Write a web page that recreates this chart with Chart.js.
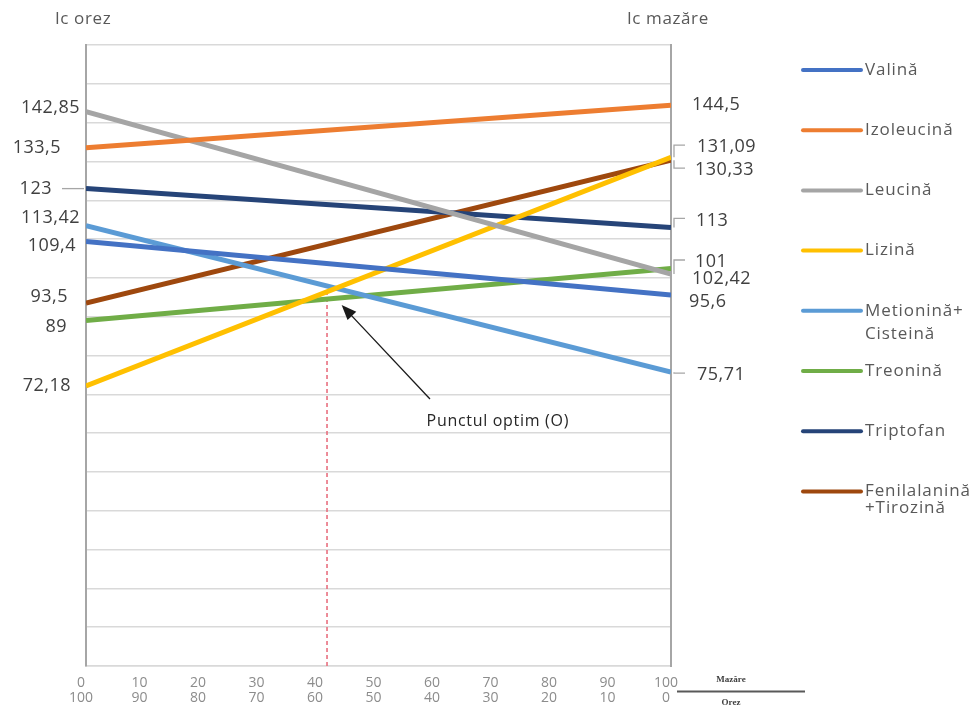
<!DOCTYPE html>
<html>
<head>
<meta charset="utf-8">
<script src="https://cdn.jsdelivr.net/npm/chart.js@4.4.0/dist/chart.umd.min.js"></script>
<style>
  html, body { margin: 0; padding: 0; background: #ffffff; }
  #wrap { width: 978px; height: 711px; position: relative; }
</style>
</head>
<body>
<div id="wrap"><canvas id="grafic" width="978" height="711"></canvas></div>
<script>
// Aminoacizi esențiali și indicii chimici (Ic) pentru orez (0% mazăre) și mazăre (100% mazăre)
const aminoacizi = ['Valină', 'Izoleucină', 'Leucină', 'Lizină', ['Metionină+', 'Cisteină'], 'Treonină', 'Triptofan', ['Fenilalanină', '+Tirozină']];
const icOrez    = [109.4, 133.5, 142.85, 72.18, 113.42, 89, 123, 93.5];
const icMazare  = [95.6, 144.5, 101, 131.09, 75.71, 102.42, 113, 130.33];
const culori    = ['#4472C4', '#ED7D31', '#A5A5A5', '#FFC000', '#5B9BD5', '#70AD47', '#264478', '#9E480E'];

// Etichetele axei orizontale: procent mazăre / procent orez
const procentMazare = [0, 10, 20, 30, 40, 50, 60, 70, 80, 90, 100];
const procentOrez   = [100, 90, 80, 70, 60, 50, 40, 30, 20, 10, 0];

// Punctul optim al amestecului
const punctOptim = { x: 41.2, y: 96.4 };

// Așezarea etichetelor de valoare (margine în px, decalaj vertical în px)
const etStangaX   = [76, 61, 80, 71, 80, 67, 52, 68];
const etStangaDy  = [4, 0, -4, 0, -8, 6, 0, -6];
const etDreaptaX  = [689, 692, 695, 697, 697, 692, 696, 695];
const etDreaptaDy = [7, 0, -12, -10, 3, 10, -7, 10];
const ghidDreapta = [false, false, true, true, true, false, true, true];

const FONT = "'Open Sans', 'Liberation Sans', sans-serif";
const fmt = v => String(v).replace('.', ',');

const seturi = aminoacizi.map((nume, i) => ({
  label: Array.isArray(nume) ? nume.join(' ') : nume,
  data: [{ x: 0, y: icOrez[i] }, { x: 100, y: icMazare[i] }],
  borderColor: culori[i],
  backgroundColor: culori[i],
  borderWidth: 5,
  pointRadius: 0,
  tension: 0,
  fill: false
}));

seturi.push({
  label: 'optim',
  data: [{ x: punctOptim.x, y: 0 }, { x: punctOptim.x, y: punctOptim.y }],
  borderColor: '#E8707F',
  borderWidth: 1.6,
  borderDash: [4, 3],
  pointRadius: 0,
  fill: false
});

const adnotari = {
  id: 'adnotari',
  afterDraw(chart) {
    const ctx = chart.ctx;
    const sx = chart.scales.x, sy = chart.scales.y;
    const area = chart.chartArea;
    ctx.save();

    // Titlurile celor două axe verticale
    ctx.fillStyle = '#595959';
    ctx.font = '17px ' + FONT;
    ctx.letterSpacing = '0.6px';
    ctx.textBaseline = 'middle';
    ctx.textAlign = 'left';
    ctx.fillText('Ic orez', 55, 19);
    ctx.fillText('Ic mazăre', 627, 19);

    // Valorile de la capetele liniilor
    ctx.fillStyle = '#404040';
    ctx.font = '18px ' + FONT;
    ctx.letterSpacing = '0.5px';
    ctx.strokeStyle = '#A6A6A6';
    ctx.lineWidth = 1.3;
    for (let i = 0; i < aminoacizi.length; i++) {
      const yL = sy.getPixelForValue(icOrez[i]);
      ctx.textAlign = 'right';
      ctx.fillText(fmt(icOrez[i]), etStangaX[i], yL + etStangaDy[i]);
      if (i === 6) {
        ctx.beginPath();
        ctx.moveTo(62, yL);
        ctx.lineTo(area.left - 2, yL);
        ctx.stroke();
      }
      const yR = sy.getPixelForValue(icMazare[i]);
      const yEt = yR + etDreaptaDy[i];
      ctx.textAlign = 'left';
      ctx.fillText(fmt(icMazare[i]), etDreaptaX[i], yEt);
      if (ghidDreapta[i]) {
        ctx.beginPath();
        ctx.moveTo(area.right + 3, yR);
        ctx.lineTo(area.right + 3, yEt - 2);
        ctx.lineTo(area.right + 14, yEt - 2);
        ctx.stroke();
      }
    }

    // Săgeata și textul pentru punctul optim
    const xa = sx.getPixelForValue(58.8), ya = sy.getPixelForValue(68.8);
    const xb = sx.getPixelForValue(43.7), yb = sy.getPixelForValue(93.0);
    const ang = Math.atan2(yb - ya, xb - xa);
    ctx.strokeStyle = '#1A1A1A';
    ctx.fillStyle = '#1A1A1A';
    ctx.lineWidth = 1.3;
    ctx.beginPath();
    ctx.moveTo(xa, ya);
    ctx.lineTo(xb - 10 * Math.cos(ang), yb - 10 * Math.sin(ang));
    ctx.stroke();
    ctx.beginPath();
    ctx.moveTo(xb, yb);
    ctx.lineTo(xb - 15 * Math.cos(ang) + 6 * Math.sin(ang), yb - 15 * Math.sin(ang) - 6 * Math.cos(ang));
    ctx.lineTo(xb - 15 * Math.cos(ang) - 6 * Math.sin(ang), yb - 15 * Math.sin(ang) + 6 * Math.cos(ang));
    ctx.closePath();
    ctx.fill();

    ctx.font = '16px ' + FONT;
    ctx.letterSpacing = '0.7px';
    ctx.textAlign = 'center';
    ctx.fillStyle = '#262626';
    ctx.fillText('Punctul optim (O)', sx.getPixelForValue(70.4), sy.getPixelForValue(62.9));

    // Fracția Mazăre / Orez de lângă axa orizontală
    ctx.letterSpacing = '0px';
    ctx.strokeStyle = '#595959';
    ctx.lineWidth = 2;
    ctx.beginPath();
    ctx.moveTo(677, 691.5);
    ctx.lineTo(805, 691.5);
    ctx.stroke();
    ctx.fillStyle = '#404040';
    ctx.font = 'bold 9px "Liberation Serif", serif';
    ctx.fillText('Mazăre', 731, 680);
    ctx.fillText('Orez', 731, 703);

    // Legenda
    ctx.textAlign = 'left';
    ctx.font = '17px ' + FONT;
    ctx.letterSpacing = '0.9px';
    ctx.lineCap = 'round';
    const pasLegenda = 60.2;
    chart.data.datasets.slice(0, aminoacizi.length).forEach((ds, i) => {
      const y = 70 + i * pasLegenda;
      ctx.strokeStyle = ds.borderColor;
      ctx.lineWidth = 4;
      ctx.beginPath();
      ctx.moveTo(803, y);
      ctx.lineTo(861, y);
      ctx.stroke();
      ctx.fillStyle = '#595959';
      const nume = aminoacizi[i];
      const randuri = Array.isArray(nume) ? nume : [nume];
      const spatiu = i === 4 ? 23 : 17;
      randuri.forEach((r, k) => ctx.fillText(r, 865, y + k * spatiu));
    });

    ctx.restore();
  }
};

new Chart(document.getElementById('grafic'), {
  type: 'line',
  data: { datasets: seturi },
  options: {
    responsive: false,
    animation: false,
    devicePixelRatio: 1,
    layout: { padding: { left: 86, right: 307, top: 45, bottom: 0 } },
    plugins: { legend: { display: false }, tooltip: { enabled: false } },
    scales: {
      x: {
        type: 'linear',
        min: 0,
        max: 100,
        afterFit: s => { s.height = 45; },
        grid: { display: false, drawTicks: false },
        border: { display: true, color: '#D9D9D9', width: 1.5 },
        ticks: {
          stepSize: 10,
          autoSkip: false,
          maxRotation: 0,
          padding: 9,
          labelOffset: -5,
          color: '#8C8C8C',
          font: { family: FONT, size: 14, lineHeight: 1.1 },
          callback: (v, i) => [String(procentMazare[i]), String(procentOrez[i])]
        }
      },
      y: {
        type: 'linear',
        position: 'left',
        min: 0,
        max: 160,
        afterFit: s => { s.width = 0; },
        ticks: { display: false, stepSize: 10 },
        grid: { color: '#D9D9D9', lineWidth: 1.5, drawTicks: false },
        border: { display: true, color: '#A6A6A6', width: 2 }
      },
      y2: {
        type: 'linear',
        position: 'right',
        min: 0,
        max: 160,
        afterFit: s => { s.width = 0; },
        ticks: { display: false },
        grid: { display: false, drawTicks: false },
        border: { display: true, color: '#A6A6A6', width: 2 }
      }
    }
  },
  plugins: [adnotari]
});
</script>
</body>
</html>
